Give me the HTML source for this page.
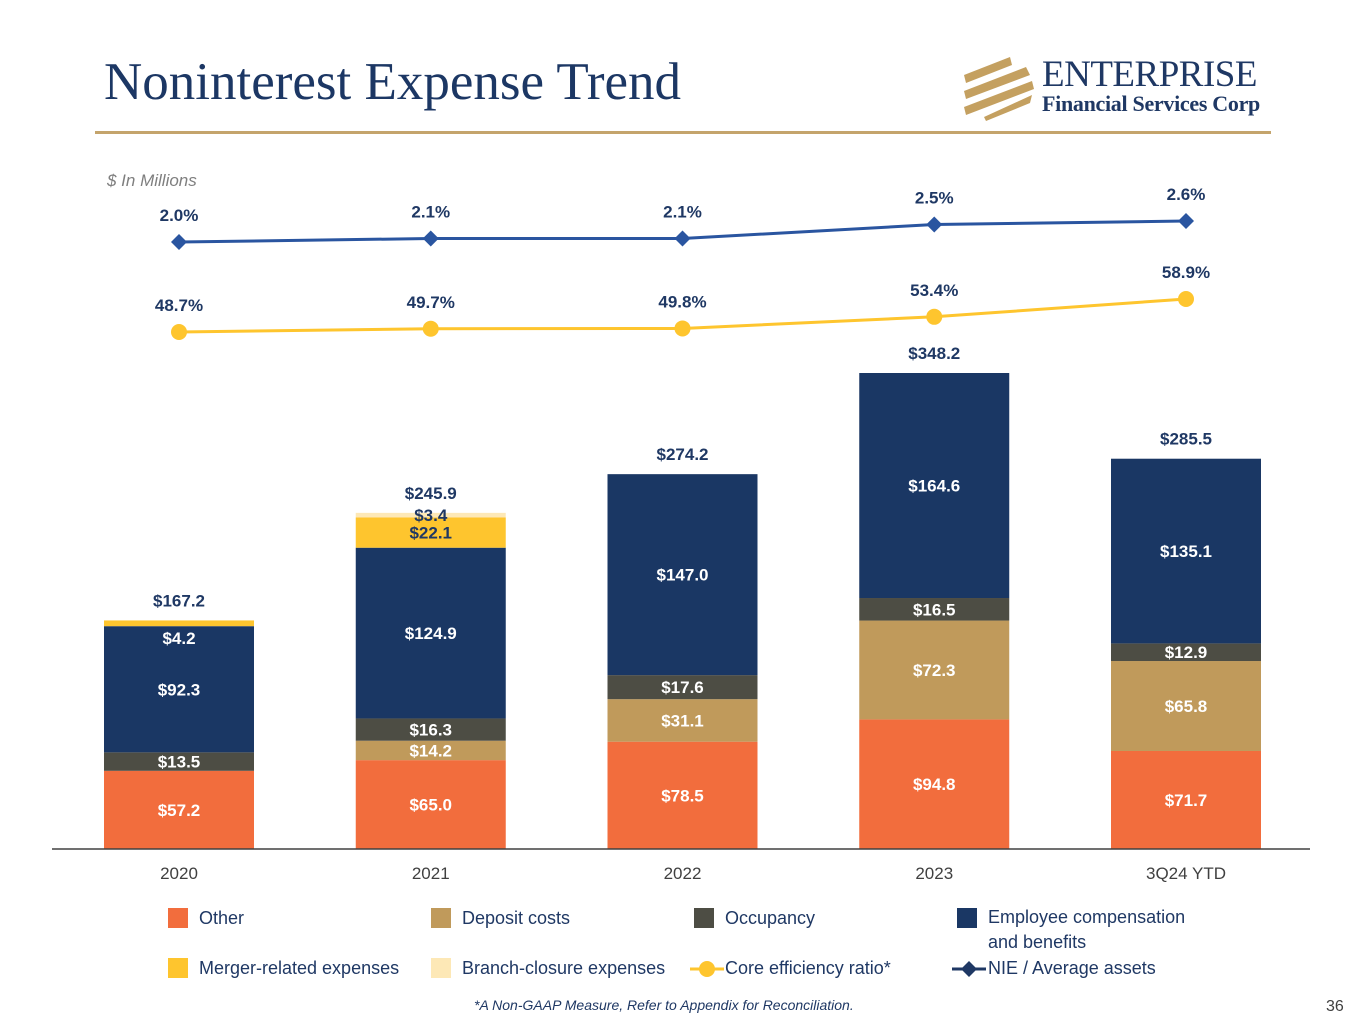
<!DOCTYPE html>
<html><head><meta charset="utf-8">
<style>
body{margin:0;width:1365px;height:1024px;background:#fff;font-family:"Liberation Sans",sans-serif;position:relative;overflow:hidden}
.title{position:absolute;left:104px;top:52px;font-family:"Liberation Serif",serif;font-size:53px;color:#1c3764}
.rule{position:absolute;left:95px;top:131px;width:1176px;height:3px;background:#c4a46c}
.leg{position:absolute;font-size:18px;color:#1f3864}
.sw{position:absolute;width:20px;height:20px}
</style></head><body>
<div class="title">Noninterest Expense Trend</div>
<div class="rule"></div>
<div style="position:absolute;left:962px;top:55px;width:310px;height:70px">
<svg width="80" height="70" style="position:absolute;left:0;top:0">
<g fill="#c4a060"><polygon points="2,20 48,2 50,10 4,28"/><polygon points="2,36 64,12 68,20 4,44"/><polygon points="2,52 70,26 72,34 4,60"/><polygon points="22,62 70,40 68,48 24,66"/></g></svg>
<div style="position:absolute;left:80px;top:-2px;font-family:'Liberation Serif',serif;font-size:37px;color:#1f3864;letter-spacing:-0.5px">ENTERPRISE</div>
<div style="position:absolute;left:80px;top:36px;font-family:'Liberation Serif',serif;font-size:22px;font-weight:bold;color:#1f3864;letter-spacing:-0.3px">Financial Services Corp</div>
</div>
<div style="position:absolute;left:107px;top:171px;font-size:17px;font-style:italic;color:#7f7f7f">$ In Millions</div>
<svg id="chart" width="1365" height="1024" style="position:absolute;left:0;top:0"></svg>
<div class="sw" style="left:168px;top:908px;background:#f26d3d"></div><div class="leg" style="left:199px;top:908px">Other</div>
<div class="sw" style="left:431px;top:908px;background:#c09a5b"></div><div class="leg" style="left:462px;top:908px">Deposit costs</div>
<div class="sw" style="left:694px;top:908px;background:#4d4d44"></div><div class="leg" style="left:725px;top:908px">Occupancy</div>
<div class="sw" style="left:957px;top:908px;background:#1a3764"></div><div class="leg" style="left:988px;top:908px;line-height:25px;margin-top:-3px">Employee compensation<br>and benefits</div>
<div class="sw" style="left:168px;top:958px;background:#fec52e"></div><div class="leg" style="left:199px;top:958px">Merger-related expenses</div>
<div class="sw" style="left:431px;top:958px;background:#fde8b6"></div><div class="leg" style="left:462px;top:958px">Branch-closure expenses</div>
<svg style="position:absolute;left:690px;top:958px" width="34" height="22"><line x1="0" y1="11" x2="34" y2="11" stroke="#fec52e" stroke-width="3"/><circle cx="17" cy="11" r="8" fill="#fec52e"/></svg><div class="leg" style="left:725px;top:958px">Core efficiency ratio*</div>
<svg style="position:absolute;left:952px;top:958px" width="34" height="22"><line x1="0" y1="11" x2="34" y2="11" stroke="#1f3864" stroke-width="3"/><polygon points="17,3 25,11 17,19 9,11" fill="#1f3864"/></svg><div class="leg" style="left:988px;top:958px">NIE / Average assets</div>
<div style="position:absolute;left:474px;top:997px;font-size:14px;font-style:italic;color:#1f3864">*A Non-GAAP Measure, Refer to Appendix for Reconciliation.</div>
<div style="position:absolute;left:1326px;top:998px;font-size:16px;color:#404040">36</div>
<script>
const categories=["2020","2021","2022","2023","3Q24 YTD"];
const other=[57.2,65.0,78.5,94.8,71.7];
const deposit=[0,14.2,31.1,72.3,65.8];
const occupancy=[13.5,16.3,17.6,16.5,12.9];
const employee=[92.3,124.9,147.0,164.6,135.1];
const merger=[4.2,22.1,0,0,0];
const branch=[0,3.4,0,0,0];
const totals=["$167.2","$245.9","$274.2","$348.2","$285.5"];
const efficiency=[48.7,49.7,49.8,53.4,58.9];
const nie=[2.0,2.1,2.1,2.5,2.6];
const svg=document.getElementById('chart');
const NS='http://www.w3.org/2000/svg';
const base=849,k=476/348.2;
const xC=i=>179+i*251.75;
const yV=v=>base-v*k;
const yE=v=>332-(v-48.7)*(33/10.2);
const yN=v=>242-(v-2.0)*35;
function mk(t,a){const e=document.createElementNS(NS,t);for(const n in a)e.setAttribute(n,a[n]);svg.appendChild(e);return e;}
function txt(x,y,s,c,name){const t=mk('text',{x:x,y:y,'text-anchor':'middle','font-size':17,'font-weight':'bold',fill:c,'font-family':'Liberation Sans, sans-serif'});t.textContent=s;

return t;}
const series=[[other,'#f26d3d','other','#fff'],[deposit,'#c09a5b','deposit','#fff'],[occupancy,'#4d4d44','occupancy','#fff'],[employee,'#1a3764','employee','#fff'],[merger,'#fec52e','merger','#1f3864'],[branch,'#fde8b6','branch','#1f3864']];
categories.forEach((c,i)=>{
  let cum=0;
  series.forEach(([arr,col,nm,tc])=>{
    const v=arr[i]; if(!v) return;
    const y0=yV(cum),y1=yV(cum+v);
    const r=mk('rect',{x:xC(i)-75,y:y1,width:150,height:y0-y1,fill:col});
    
    
    let ly=(y0+y1)/2+6, lc=tc;
    if(nm==='merger'&&i===0){ly=y0+18;lc='#fff';}
    txt(xC(i),ly,'$'+v.toFixed(1),lc,'label-'+nm+'-'+i);
    cum+=v;
  });
  txt(xC(i),yV(cum)-14,totals[i],'#1f3864','total-label-'+i);
  const ct=txt(xC(i),879,c,'#404040','x-label-'+i);ct.setAttribute('font-weight','normal');
});
const ax=mk('line',{x1:52,y1:849,x2:1310,y2:849,stroke:'#404040','stroke-width':1.5});


const ep=mk('polyline',{points:efficiency.map((v,i)=>xC(i)+','+yE(v)).join(' '),fill:'none',stroke:'#fec52e','stroke-width':3});


const np=mk('polyline',{points:nie.map((v,i)=>xC(i)+','+yN(v)).join(' '),fill:'none',stroke:'#2a55a0','stroke-width':3});


efficiency.forEach((v,i)=>{const c=mk('circle',{cx:xC(i),cy:yE(v),r:8,fill:'#fec52e'});


txt(xC(i),yE(v)-21,v.toFixed(1)+'%','#1f3864','efficiency-label-'+i);});
nie.forEach((v,i)=>{const x=xC(i),y=yN(v);const p=mk('polygon',{points:`${x},${y-8} ${x+8},${y} ${x},${y+8} ${x-8},${y}`,fill:'#2a55a0'});


txt(x,y-21,v.toFixed(1)+'%','#1f3864','nie-label-'+i);});
</script>
</body></html>
